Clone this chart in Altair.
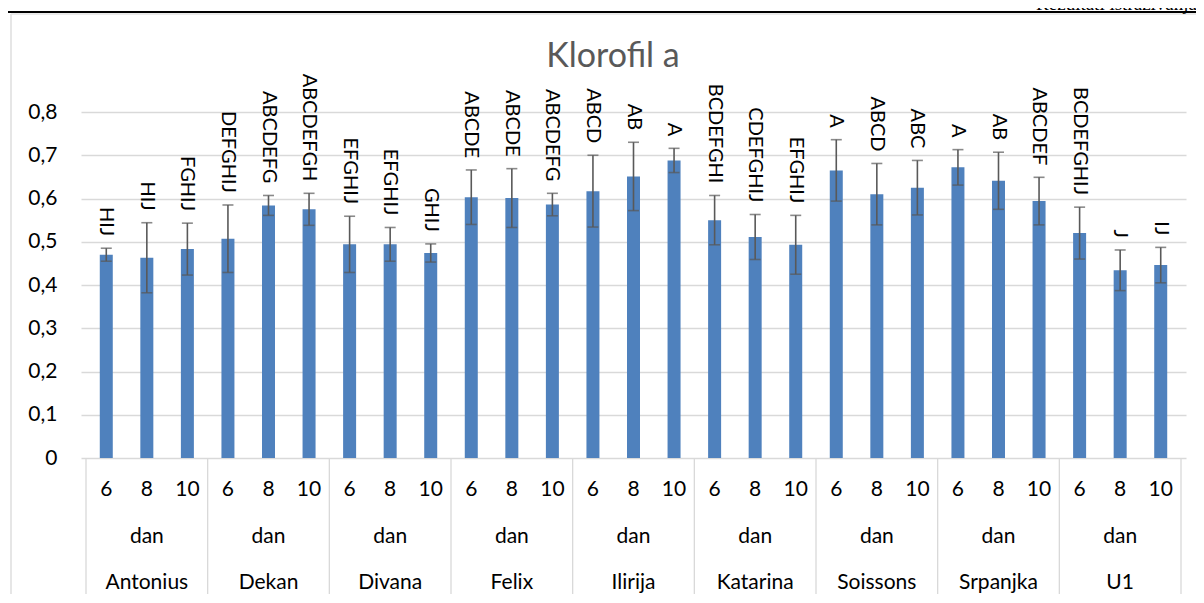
import altair as alt
import pandas as pd

varieties = ["Antonius", "Dekan", "Divana", "Felix", "Ilirija", "Katarina", "Soissons", "Srpanjka", "U1"]
days = ["6", "8", "10"]
values = [0.470, 0.463, 0.483, 0.507, 0.584, 0.575, 0.494, 0.494, 0.474,
          0.603, 0.601, 0.586, 0.617, 0.651, 0.688, 0.550, 0.511, 0.493,
          0.665, 0.610, 0.625, 0.672, 0.641, 0.594, 0.520, 0.434, 0.446]
errors = [0.015, 0.081, 0.060, 0.078, 0.023, 0.037, 0.065, 0.039, 0.021,
          0.063, 0.068, 0.026, 0.083, 0.079, 0.028, 0.057, 0.052, 0.068,
          0.071, 0.071, 0.063, 0.041, 0.066, 0.055, 0.060, 0.047, 0.041]
letters = ["HIJ", "HIJ", "FGHIJ", "DEFGHIJ", "ABCDEFG", "ABCDEFGH", "EFGHIJ", "EFGHIJ", "GHIJ",
           "ABCDE", "ABCDE", "ABCDEFG", "ABCD", "AB", "A", "BCDEFGHI", "CDEFGHIJ", "EFGHIJ",
           "A", "ABCD", "ABC", "A", "AB", "ABCDEF", "BCDEFGHIJ", "J", "IJ"]
title_text = "Klorofil a"
header_text = "Rezultati istraživanja"
day_word = "dan"

n = len(values)
rows = []
for i in range(n):
    rows.append({
        "xc": i + 0.5,
        "value": values[i],
        "lo": values[i] - errors[i],
        "hi": values[i] + errors[i],
        "label": letters[i],
        "day": days[i % 3],
        "variety": varieties[i // 3],
    })
df = pd.DataFrame(rows)
groups = pd.DataFrame({"gc": [3 * g + 1.5 for g in range(len(varieties))], "variety": varieties,
                       "dan": [day_word] * len(varieties)})
seps = pd.DataFrame({"pos": [3 * g for g in range(len(varieties) + 1)]})
one = pd.DataFrame({"a": [0]})

W, H = 1105, 346
FONT = "Lato"
xs = alt.Scale(domain=[0, n], nice=False, zero=False)
ys = alt.Scale(domain=[0, 0.8], nice=False)

bars = alt.Chart(df).mark_bar(size=13, color="#4F81BD").encode(
    x=alt.X("xc:Q", scale=xs, axis=None),
    y=alt.Y("value:Q", scale=ys, axis=alt.Axis(
        values=[0, 0.1, 0.2, 0.3, 0.4, 0.5, 0.6, 0.7, 0.8], grid=True, gridColor="#d9d9d9",
        gridWidth=1.3, domain=False, ticks=False, labelFont=FONT, labelFontSize=21,
        labelColor="#000000", labelPadding=24, title=None,
        labelExpr="replace(format(datum.value, '.1~f'), '.', ',')")),
)
err = alt.Chart(df).mark_rule(color="#595959", strokeWidth=1.6).encode(
    x=alt.X("xc:Q", scale=xs), y=alt.Y("lo:Q", scale=ys), y2="hi:Q")
cap_lo = alt.Chart(df).mark_tick(color="#595959", orient="horizontal", size=11, thickness=1.6).encode(
    x=alt.X("xc:Q", scale=xs), y=alt.Y("lo:Q", scale=ys))
cap_hi = alt.Chart(df).mark_tick(color="#595959", orient="horizontal", size=11, thickness=1.6).encode(
    x=alt.X("xc:Q", scale=xs), y=alt.Y("hi:Q", scale=ys))
labels = alt.Chart(df).mark_text(angle=90, align="right", baseline="middle", dx=-12,
                                 font=FONT, fontSize=20, color="#000000").encode(
    x=alt.X("xc:Q", scale=xs), y=alt.Y("hi:Q", scale=ys), text="label:N")

day_lab = alt.Chart(df).mark_text(font=FONT, fontSize=21, color="#000000", baseline="middle").encode(
    x=alt.X("xc:Q", scale=xs), y=alt.value(378), text="day:N")
dan_lab = alt.Chart(groups).mark_text(font=FONT, fontSize=21, color="#000000", baseline="middle").encode(
    x=alt.X("gc:Q", scale=xs), y=alt.value(424.5), text="dan:N")
var_lab = alt.Chart(groups).mark_text(font=FONT, fontSize=21, color="#000000", baseline="middle").encode(
    x=alt.X("gc:Q", scale=xs), y=alt.value(471), text="variety:N")
sep = alt.Chart(seps).mark_rule(color="#d9d9d9", strokeWidth=1.3).encode(
    x=alt.X("pos:Q", scale=xs), y=alt.value(H), y2=alt.value(485))

title = alt.Chart(one).mark_text(font=FONT, fontSize=34, color="#595959", align="center",
                                 baseline="alphabetic").encode(
    x=alt.value(532), y=alt.value(-45), text=alt.value(title_text))
header = alt.Chart(one).mark_text(font="Liberation Serif", fontSize=19, color="#000000", align="right",
                                  baseline="alphabetic").encode(
    x=alt.value(1116), y=alt.value(-102.5), text=alt.value(header_text))
header_line = alt.Chart(one).mark_rule(color="#000000", strokeWidth=2.2).encode(
    x=alt.value(-77), x2=alt.value(1123), y=alt.value(-100))
border_left = alt.Chart(one).mark_rule(color="#d9d9d9", strokeWidth=1.3).encode(
    x=alt.value(-70), y=alt.value(-98), y2=alt.value(490))
border_top = alt.Chart(one).mark_rule(color="#e3e3e3", strokeWidth=1.3).encode(
    x=alt.value(-70), x2=alt.value(1123), y=alt.value(-98))

chart = alt.layer(
    border_left, border_top, header_line, header, title,
    bars, err, cap_lo, cap_hi, labels, sep, day_lab, dan_lab, var_lab
).properties(
    width=W, height=H,
    autosize=alt.AutoSizeParams(type="none"),
    padding={"left": 73, "top": 104, "right": 10, "bottom": 136},
).configure_view(stroke=None)

chart.save("out.html", embed_options={"renderer": "svg", "actions": False})
